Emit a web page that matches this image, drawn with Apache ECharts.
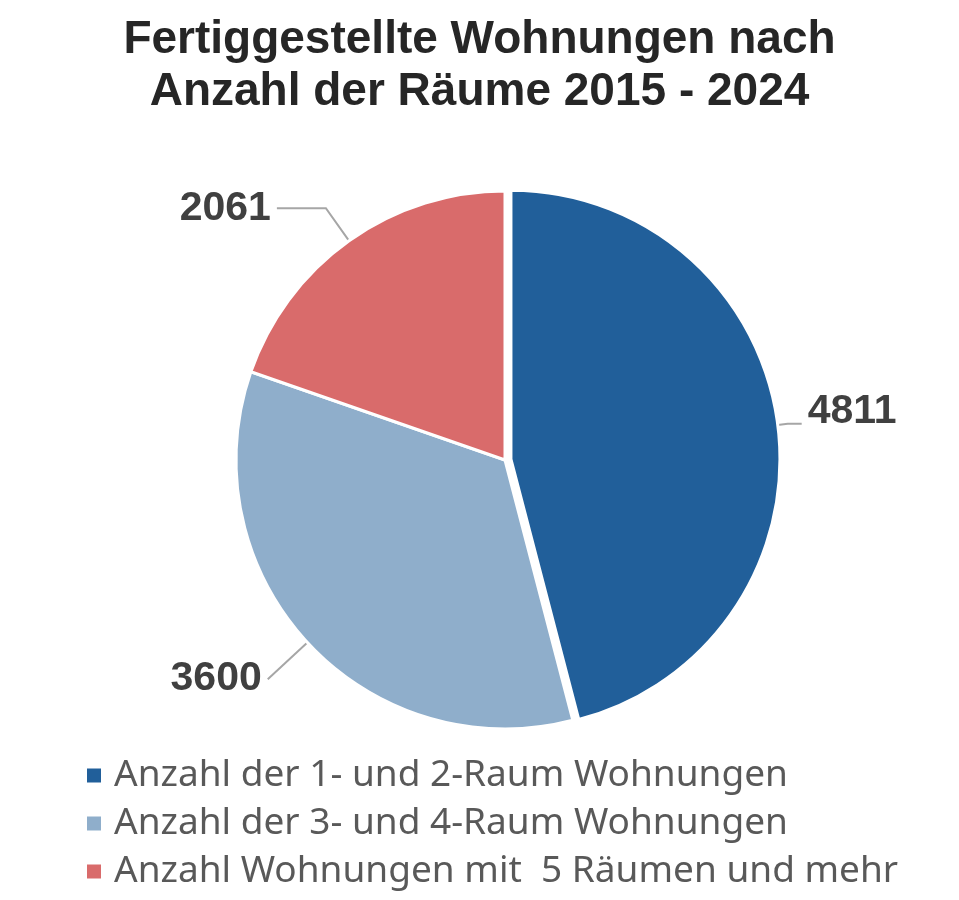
<!DOCTYPE html>
<html>
<head>
<meta charset="utf-8">
<script src="https://cdn.jsdelivr.net/npm/echarts@6/dist/echarts.min.js"></script>
<style>
html, body { margin: 0; padding: 0; background: #fff; }
#chart { width: 959px; height: 900px; }
</style>
</head>
<body>
<div id="chart"></div>
<script>
// Daten
var kategorien = ['Anzahl der 1- und 2-Raum Wohnungen', 'Anzahl der 3- und 4-Raum Wohnungen', 'Anzahl Wohnungen mit  5 Räumen und mehr'];
var werte = [4811, 3600, 2061];
var farben = ['#215f9a', '#8faecb', '#d96b6b'];
// Länge der Beschriftungslinien je Segment
var linie1 = [10, 54, 40];
var linie2 = [14, 0, 49];

var chart = echarts.init(document.getElementById('chart'));

var daten = kategorien.map(function (name, i) {
    var d = {
        value: werte[i],
        name: name,
        itemStyle: { color: farben[i] },
        labelLine: { length: linie1[i], length2: linie2[i] }
    };
    if (i == 0) {
        d.selected = true;
        d.select = { itemStyle: { color: farben[i] } };
    }
    return d;
});

chart.setOption({
    animation: false,
    title: {
        text: 'Fertiggestellte Wohnungen nach\nAnzahl der Räume 2015 - 2024',
        left: 'center',
        top: 9,
        textStyle: {
            fontFamily: 'Liberation Sans',
            fontSize: 46,
            fontWeight: 'bold',
            color: '#262626',
            lineHeight: 52
        }
    },
    legend: {
        orient: 'vertical',
        left: 80,
        top: 752,
        icon: 'rect',
        itemWidth: 16,
        itemHeight: 16,
        itemGap: 11,
        selectedMode: false,
        textStyle: {
            fontFamily: 'Noto Sans',
            fontSize: 37,
            lineHeight: 37,
            color: '#595959',
            padding: [0, 0, 0, 7]
        },
        data: kategorien
    },
    series: [
        {
            type: 'pie',
            center: [505, 460],
            radius: 269,
            startAngle: 90,
            clockwise: true,
            selectedMode: 'single',
            selectedOffset: 6,
            itemStyle: {
                borderColor: '#fff',
                borderWidth: 3
            },
            label: {
                show: true,
                position: 'outside',
                formatter: '{c}',
                fontFamily: 'Liberation Sans',
                fontSize: 41,
                fontWeight: 'bold',
                color: '#404040',
                distanceToLabelLine: 6
            },
            labelLine: {
                show: true,
                lineStyle: { color: '#a6a6a6', width: 2 }
            },
            labelLayout: function (params) {
                if (params.dataIndex == 0) {
                    return { dy: -12 };
                }
                return {};
            },
            emphasis: { disabled: true },
            data: daten
        }
    ]
});
</script>
</body>
</html>
